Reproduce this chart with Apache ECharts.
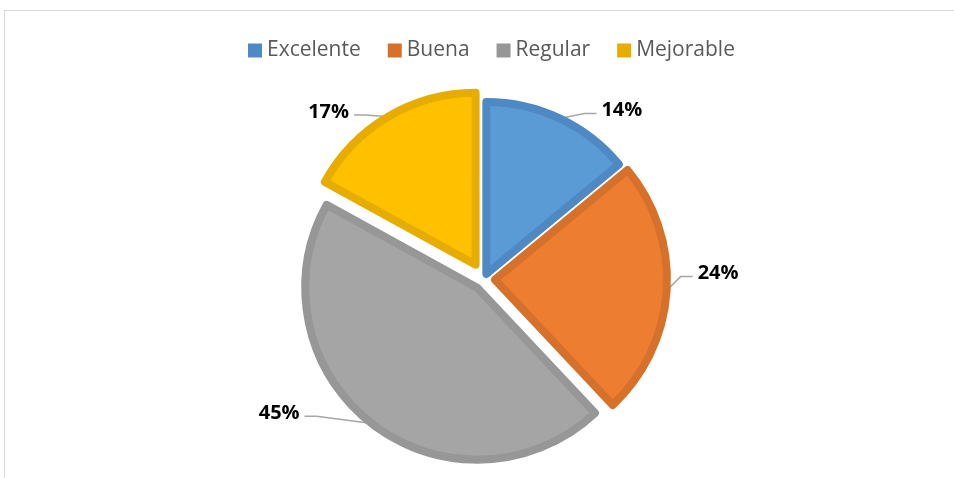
<!DOCTYPE html>
<html>
<head>
<meta charset="utf-8">
<script src="https://cdn.jsdelivr.net/npm/echarts@6/dist/echarts.min.js"></script>
<style>
  html, body { margin: 0; padding: 0; background: #fff; }
  #frame { position: absolute; left: 4px; top: 10px; width: 980px; height: 500px;
           border-top: 1px solid #d9d9d9; border-left: 1px solid #d9d9d9; }
  #chart { position: absolute; left: 0; top: 0; width: 954px; height: 478px; }
</style>
</head>
<body>
<div id="frame"></div>
<div id="chart"></div>
<script>
var categories = ['Excelente', 'Buena', 'Regular', 'Mejorable'];
var values = [14, 24, 45, 17];
var fillColors = ['#5b9bd5', '#ed7d31', '#a5a5a5', '#ffc000'];
var edgeColors = ['#4f89c3', '#d6712c', '#979797', '#e6ad00'];
// each slice is pulled out by its own amount, so one pie series per slice
var explode = [5.5, 11, 11, 16.5];
// label nudges (dx, dy)
var labelShift = [[2, -6], [-10, -17], [-32, -12], [1, -3]];

function sliceSeries(k) {
    return {
        type: 'pie',
        center: [484, 279],
        radius: [0, 172],
        startAngle: 90,
        selectedMode: 'multiple',
        selectedOffset: explode[k],
        avoidLabelOverlap: false,
        silent: true,
        label: {
            show: true,
            position: 'outside',
            formatter: '{c}%',
            fontFamily: 'Open Sans',
            fontWeight: 'bold',
            fontSize: 20,
            color: '#000'
        },
        labelLine: {
            show: true,
            length: 2,
            length2: 34,
            lineStyle: { color: '#a6a6a6', width: 1.5 }
        },
        labelLayout: function (params) {
            var s = labelShift[params.dataIndex];
            var p = params.labelLinePoints;
            if (!p) return { dx: s[0], dy: s[1] };
            var end = [p[2][0] + s[0], p[2][1] + s[1] + 3];
            var dir = end[0] > p[0][0] ? -1 : 1;
            var mid = [end[0] + dir * 12, end[1]];
            return { dx: s[0], dy: s[1], labelLinePoints: [p[0], mid, end] };
        },
        emphasis: { disabled: true },
        data: categories.map(function (name, i) {
            if (i !== k) {
                return {
                    name: name,
                    value: values[i],
                    itemStyle: { color: 'rgba(0,0,0,0)', borderWidth: 0 },
                    label: { show: false },
                    labelLine: { show: false }
                };
            }
            return {
                name: name,
                value: values[i],
                selected: true,
                itemStyle: { color: fillColors[i], borderColor: edgeColors[i], borderWidth: 8 }
            };
        })
    };
}

var myChart = echarts.init(document.getElementById('chart'));
myChart.setOption({
    animation: false,
    legend: {
        top: 35,
        left: 243,
        icon: 'rect',
        itemWidth: 14,
        itemHeight: 14,
        itemGap: 27,
        textStyle: {
            fontFamily: 'Open Sans',
            fontSize: 21,
            color: '#595959'
        },
        data: categories.map(function (name, i) {
            return { name: name, itemStyle: { color: edgeColors[i], borderWidth: 0 } };
        })
    },
    series: categories.map(function (name, k) { return sliceSeries(k); })
});
</script>
</body>
</html>
